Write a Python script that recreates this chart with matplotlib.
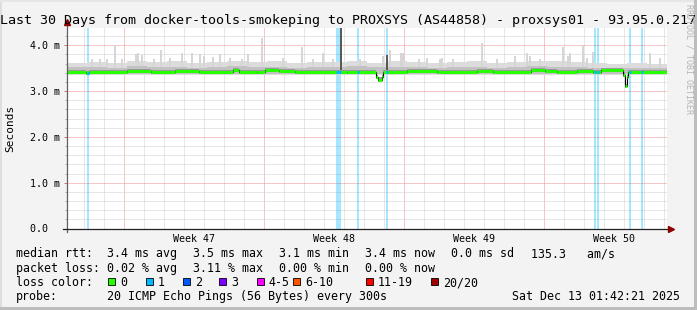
import matplotlib
matplotlib.use("Agg")
import matplotlib.pyplot as plt
from matplotlib.patches import Rectangle
from matplotlib.lines import Line2D
import numpy as np

# --- data ------------------------------------------------------------------
title = "Last 30 Days from docker-tools-smokeping to PROXSYS (AS44858) - proxsys01 - 93.95.0.217"

week_labels = ["Week 47", "Week 48", "Week 49", "Week 50"]
week_start_days = [2.87, 9.87, 16.87, 23.87]
week_label_days = [6.37, 13.37, 20.37, 27.37]
first_midnight = 0.87

y_ticks = [0, 1, 2, 3, 4]
y_tick_labels = ["0.0  ", "1.0 m", "2.0 m", "3.0 m", "4.0 m"]

# median rtt (ms), piecewise constant: segment start day -> value
median_start = [0, 0.95, 1.1, 3.0, 4.2, 5.4, 6.6, 8.3, 8.6, 9.5, 9.9, 10.6, 11.4,
                13.5, 14.0, 15.45, 15.55, 15.75, 15.82, 17.0, 18.5, 20.5, 21.3,
                23.2, 23.9, 24.5, 25.5, 26.3, 26.7, 27.8, 27.9, 28.0, 28.05, 30]
median_ms = [3.42, 3.40, 3.42, 3.43, 3.42, 3.43, 3.42, 3.45, 3.42, 3.41, 3.45, 3.44,
             3.42, 3.41, 3.42, 3.30, 3.25, 3.30, 3.42, 3.43, 3.42, 3.43, 3.42,
             3.45, 3.43, 3.42, 3.43, 3.41, 3.45, 3.36, 3.10, 3.30, 3.42]

# smoke: daily upper edge of the light and the mid grey bands
smoke_light_top = [3.62, 3.64, 3.62, 3.66, 3.63, 3.65, 3.62, 3.64, 3.66, 3.63,
                   3.65, 3.62, 3.64, 3.63, 3.66, 3.62, 3.65, 3.63, 3.62, 3.64,
                   3.65, 3.62, 3.64, 3.66, 3.65, 3.63, 3.62, 3.60, 3.62, 3.60]
smoke_mid_top = [3.52, 3.53, 3.51, 3.54, 3.52, 3.53, 3.51, 3.52, 3.54, 3.52,
                 3.53, 3.51, 3.52, 3.53, 3.54, 3.52, 3.53, 3.52, 3.51, 3.52,
                 3.53, 3.51, 3.52, 3.54, 3.53, 3.52, 3.51, 3.50, 3.51, 3.50]
smoke_light_floor = 3.34
smoke_mid_floor = 3.37

# single outlier spikes of the smoke (day, top ms)
spike_days = [1.25, 1.65, 2.0, 2.4, 2.75, 3.45, 3.55, 3.75, 4.35, 4.7, 5.15, 5.75,
              6.25, 6.65, 6.85, 7.3, 7.65, 8.15, 8.75, 9.05, 9.75, 10.8, 11.75,
              12.3, 12.8, 13.3, 14.65, 15.8, 16.15, 16.7, 16.8, 17.6, 18.0, 18.65,
              18.75, 19.3, 20.75, 21.5, 22.4, 23.0, 23.15, 23.65, 24.8, 25.05,
              25.15, 25.8, 26.0, 26.3, 29.15, 29.65]
spike_top = [3.69, 3.69, 3.69, 4.00, 3.69, 3.80, 3.84, 3.78, 3.70, 3.90, 3.73, 3.82,
             3.84, 3.80, 3.76, 3.75, 3.80, 3.73, 3.69, 3.80, 4.15, 3.73, 3.95,
             3.69, 3.82, 3.69, 3.69, 3.76, 3.90, 3.84, 3.84, 3.69, 3.73, 3.69,
             3.73, 3.69, 4.05, 3.69, 3.77, 3.84, 3.76, 3.70, 3.97, 3.76,
             3.84, 4.00, 3.73, 3.86, 3.84, 3.73]
dark_spike_days = [13.7, 16.0]
dark_spike_top = [4.6, 3.78]

# packet loss samples (day, width in days); all of them 1 of 20 lost
loss_days = [1.05, 13.57, 14.55, 16.0, 26.4, 26.55, 28.15, 28.75]
loss_width = [0.08, 0.22, 0.08, 0.1, 0.08, 0.08, 0.08, 0.1]

legend_rows = [
    ["median rtt:", "3.4 ms avg", "3.5 ms max", "3.1 ms min", "3.4 ms now", "0.0 ms sd", "135.3   am/s"],
    ["packet loss:", "0.02 % avg", "3.11 % max", "0.00 % min", "0.00 % now"],
]
loss_labels = ["0", "1", "2", "3", "4-5", "6-10", "11-19", "20/20"]
loss_colors = ["#26ff00", "#00b8ff", "#0059ff", "#7e00ff", "#ff00ff", "#ff5500", "#ff0000", "#a10000"]
probe_text = "20 ICMP Echo Pings (56 Bytes) every 300s"
stamp = "Sat Dec 13 01:42:21 2025"

# --- layout (pixels) ---------------------------------------------------------
W, H = 697, 310
X0, X1 = 67, 667
YB, YT = 228.5, 28
PX_MS = 45.83
MONO = "DejaVu Sans Mono"

def fx(x):
    return x / W

def fy(y):
    return 1 - y / H

plt.rcParams["font.family"] = MONO
fig = plt.figure(figsize=(W / 100, H / 100), dpi=100, facecolor="#f3f3f3")
ax = fig.add_axes([fx(X0), fy(YB), (X1 - X0) / W, (YB - YT) / H])
ax.set_xlim(0, 30)
ax.set_ylim(0, (YB - YT) / PX_MS)
ax.set_facecolor("white")
for s in ax.spines.values():
    s.set_visible(False)

# grid
dot = (0, (1, 1))
for k in range(30):
    d = first_midnight + k
    if any(abs(d - w) < 0.01 for w in week_start_days):
        continue
    ax.axvline(d, color="#cfcfcf", lw=0.72, ls=dot, zorder=1)
for w in week_start_days:
    ax.axvline(w, color="#ee9090", lw=0.72, ls=dot, zorder=1)
for v in np.arange(0.2, 4.4, 0.2):
    if abs(v - round(v)) < 0.01:
        ax.axhline(v, color="#ee9090", lw=0.72, ls=dot, zorder=1)
    else:
        ax.axhline(v, color="#cfcfcf", lw=0.72, ls=dot, zorder=1)

# loss bars
for d, w in zip(loss_days, loss_width):
    ax.axvspan(d - w / 2, d + w / 2, color=loss_colors[1], alpha=0.35, lw=0, zorder=1.5)

# smoke
edges = np.arange(31)
ax.stairs(smoke_light_top, edges, baseline=smoke_light_floor, fill=True, color="#dcdcdc", zorder=2)
ax.bar(spike_days, np.array(spike_top) - 3.45, bottom=3.45, width=0.07,
       color="#d6d6d6", lw=0, zorder=2.1)
ax.stairs(smoke_mid_top, edges, baseline=smoke_mid_floor, fill=True, color="#c2c2c2", zorder=2.2)
med = np.array(median_ms)
ax.stairs(med + 0.045, median_start, baseline=med - 0.045, fill=True, color="#9a9a9a", zorder=2.3)
ax.bar(dark_spike_days, np.array(dark_spike_top) - 3.45, bottom=3.45, width=0.1,
       color="#5a5a5a", lw=0, zorder=2.4)

# median line, coloured by loss
ax.step(median_start, list(median_ms) + [median_ms[-1]], where="post", color="black", lw=0.8, zorder=2.8)
ax.hlines(median_ms, median_start[:-1], median_start[1:], color=loss_colors[0], lw=2.2, zorder=3)
for d, w in zip(loss_days, loss_width):
    i = np.searchsorted(median_start, d, side="right") - 1
    ax.hlines(median_ms[i], d - w / 2, d + w / 2, color=loss_colors[1], lw=2.2, zorder=3.1)

# ticks
ax.set_yticks(y_ticks, y_tick_labels)
ax.set_yticks(np.arange(0.2, 4.4, 0.2), minor=True)
ax.tick_params(axis="y", which="major", length=2.2, width=0.72, color="#e07070", pad=2.9,
               labelsize=7.2, labelcolor="black")
ax.tick_params(axis="y", which="minor", length=1.5, width=0.72, color="#b0b0b0")
ax.set_xticks(week_label_days, week_labels)
ax.tick_params(axis="x", which="major", length=0, pad=4.2, labelsize=7.2)

# axes with arrows
arrow_col = "#900000"
fig.add_artist(Line2D([fx(X0), fx(X0)], [fy(YB + 3), fy(23)], color="#606060", lw=0.9))
fig.add_artist(Line2D([fx(X0 - 4), fx(X1 + 2)], [fy(YB), fy(YB)], color="#202020", lw=0.9))
fig.add_artist(Line2D([fx(X0)], [fy(21.5)], marker="^", ms=5, color=arrow_col, lw=0))
fig.add_artist(Line2D([fx(X1 + 3.5)], [fy(YB)], marker=">", ms=5, color=arrow_col, lw=0))

# texts
fig.text(fx(W / 2), fy(24), title, ha="center", va="baseline", fontsize=9.6)
fig.text(fx(10.5), fy(128.5), "Seconds", rotation=90, ha="center", va="center", fontsize=8)
fig.text(fx(688.5), fy(4), "RRDTOOL / TOBI OETIKER", rotation=270, ha="center", va="top",
         fontsize=6, color="#b4b4b4")

col_x = [16, 107, 193, 279, 365, 451, 531]
base_y = [257.3, 271.7, 286, 300.3]
for r, row in enumerate(legend_rows):
    for x, t in zip(col_x, row):
        fig.text(fx(x), fy(base_y[r]), t, ha="left", va="baseline", fontsize=8.4)

fig.text(fx(16), fy(base_y[2]), "loss color:", ha="left", va="baseline", fontsize=8.4)
box_x = [108.3, 145.7, 182.7, 219.3, 256.7, 293.3, 366, 430.7]
for bx, lab, c in zip(box_x, loss_labels, loss_colors):
    fig.add_artist(Rectangle((fx(bx), fy(285)), 7 / W, 7 / H, facecolor=c,
                             edgecolor="black", lw=0.6))
    fig.text(fx(bx + 12), fy(base_y[2]), lab, ha="left", va="baseline", fontsize=8.4)

fig.text(fx(16), fy(base_y[3]), "probe:", ha="left", va="baseline", fontsize=8.4)
fig.text(fx(107), fy(base_y[3]), probe_text, ha="left", va="baseline", fontsize=8.4)
fig.text(fx(680), fy(base_y[3]), stamp, ha="right", va="baseline", fontsize=8.4)

# 3d-ish border of the image
fig.add_artist(Rectangle((0, 0), 2 / W, 1, facecolor="#dedede", lw=0))
fig.add_artist(Rectangle((0, 1 - 2 / H), 1, 2 / H, facecolor="#e6e6e6", lw=0))
fig.add_artist(Rectangle((1 - 3 / W, 0), 3 / W, 1, facecolor="#bdbdbd", lw=0))
fig.add_artist(Rectangle((0, 0), 1, 3 / H, facecolor="#bdbdbd", lw=0))

fig.savefig("out.png", dpi=100, facecolor=fig.get_facecolor())
